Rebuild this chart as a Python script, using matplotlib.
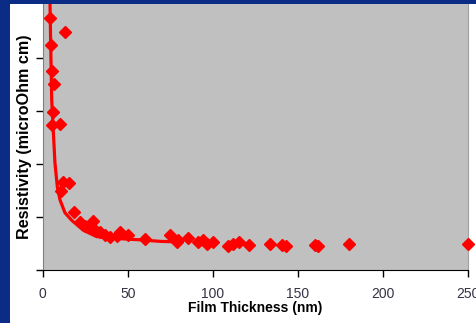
import matplotlib
matplotlib.use("Agg")
import matplotlib.pyplot as plt
from matplotlib.patches import Rectangle

plt.rcParams['font.family'] = ['Liberation Sans', 'DejaVu Sans']

# measured points: film thickness (nm) vs resistivity
thickness = [4.3, 13.1, 4.7, 5.3, 6.6, 6.2, 5.3, 10.2, 10.6, 12.1, 15.6, 18.6,
             21.9, 24.9, 27.8, 29.7, 30.7, 33.7, 36.6, 39.6, 43.5, 45.4, 50.3,
             60.0, 74.7, 78.8, 79.7, 85.2, 91.5, 94.4, 96.4, 100.3, 109.1,
             111.7, 115.2, 121.3, 133.6, 140.8, 143.0, 160.1, 161.6, 180.0, 249.8]
resistivity = [47.5, 44.9, 42.5, 37.6, 35.1, 29.9, 27.4, 27.5, 15.0, 16.7, 16.4, 11.0,
               9.1, 8.3, 7.9, 9.3, 7.5, 7.2, 6.6, 6.3, 6.4, 7.2, 6.6,
               5.8, 6.6, 5.3, 5.7, 6.0, 5.2, 5.7, 5.0, 5.2, 4.6,
               5.0, 5.2, 4.8, 5.0, 4.8, 4.5, 4.8, 4.5, 4.9, 4.9]

# fitted trend line
fit_x = [4.3, 4.7, 5.3, 6.2, 7.2, 8.6, 10.2, 13.1, 17.0, 23.9, 31.7, 45.6, 57.2, 69.2, 80.7]
fit_y = [50.2, 42.5, 32.1, 26.4, 20.2, 15.7, 13.2, 10.8, 9.4, 7.5, 6.3, 5.9, 5.7, 5.4, 5.3]

xticks = [0, 50, 100, 150, 200, 250]
yticks = [0, 10, 20, 30, 40]

fig = plt.figure(figsize=(4.77, 3.23), dpi=100, facecolor='#0b2c86')
fig.patches.append(Rectangle((10 / 477, 0), 1, (323 - 4) / 323,
                             transform=fig.transFigure, facecolor='white',
                             edgecolor='none', zorder=-10))

ax = fig.add_axes([42.7 / 477, 53 / 323, (468 - 42.7) / 477, 266 / 323])
ax.set_facecolor('#c0c0c0')

ax.plot(fit_x, fit_y, color='red', linewidth=2.3, zorder=3)
ax.plot(thickness, resistivity, linestyle='none', marker='D', markersize=5.8,
        color='red', markeredgecolor='red', zorder=4, clip_on=False)

ax.set_xlim(0, 250)
ax.set_ylim(0, 50.2)
ax.set_xticks(xticks)
ax.set_yticks(yticks)
ax.set_yticklabels([])
ax.tick_params(axis='both', direction='out', length=5, width=1, color='black')
ax.tick_params(axis='x', labelsize=10, labelcolor='#333344', pad=7)

ax.spines['top'].set_visible(False)
ax.spines['left'].set_color('#808080')
ax.spines['right'].set_color('#a0a0a0')
ax.spines['bottom'].set_color('black')

ax.set_xlabel('Film Thickness (nm)', fontsize=10, fontweight='bold', labelpad=0)
ax.set_ylabel('Resistivity (microOhm cm)', fontsize=11.6, fontweight='bold')
ax.yaxis.set_label_coords(-11 / 425.3, 0.5)

fig.savefig('out.png', dpi=100, facecolor=fig.get_facecolor())
